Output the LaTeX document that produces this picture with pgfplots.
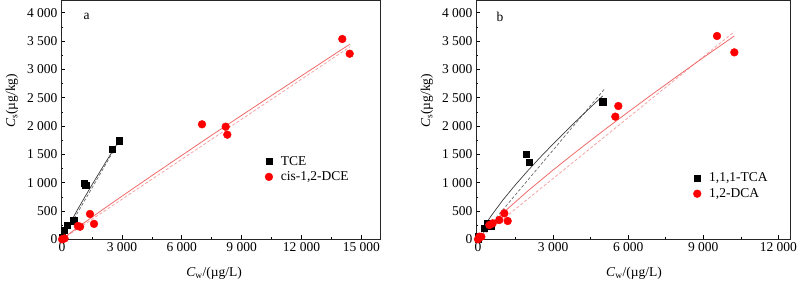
\documentclass[border=0pt]{standalone}
\usepackage{fontspec}
\setmainfont{Liberation Serif}
\usepackage{pgfplots}
\pgfplotsset{compat=1.18}
\definecolor{lred}{HTML}{F06A6A}
\definecolor{pred}{HTML}{F5A3A3}
\definecolor{dgray}{HTML}{3A3A3A}
\definecolor{mgray}{HTML}{6A6A6A}
\pgfplotsset{panel/.style={
  scale only axis, anchor=south west, height=238.6pt,
  ymin=0, ymax=4212,
  ytick={0,500,...,4000}, minor y tick num=1, minor x tick num=1,
  tick pos=left, tick align=inside,
  major tick length=4pt, minor tick length=2.2pt,
  every tick/.style={black, line width=0.6pt},
  axis line style={line width=0.9pt, black!85},
  /pgf/number format/assume math mode=true,
  /pgf/number format/1000 sep={\hspace{0.25em}},
  scaled ticks=false,
  xlabel={\textit{C}\textsubscript{w}/(µg/L)},
  ylabel={\textit{C}\textsubscript{s}(µg/kg)},
  clip=false,
  legend cell align=left,
  legend image code/.code={\draw[##1] plot coordinates {(0pt,0pt)};},
  legend style={draw=none, fill=none, inner sep=0pt, row sep=1pt,
     /tikz/every odd column/.append style={column sep=6pt}},
  ms/.style={only marks, mark=square*, mark size=3.2pt, black},
  mc/.style={only marks, mark=*, mark size=3.9pt, red, mark options={draw=red, fill=red}},
  ls/.style={no marks, dgray, line width=0.7pt, forget plot},
  ld/.style={no marks, mgray, line width=0.7pt, dash pattern=on 3pt off 2pt, forget plot},
  rs/.style={no marks, lred, line width=0.8pt, forget plot},
  rd/.style={no marks, pred, line width=0.8pt, dash pattern=on 3pt off 2pt, forget plot},
}}
\begin{document}
\begin{tikzpicture}[font=\fontsize{13.5pt}{16pt}\selectfont]
\useasboundingbox (0pt,0pt) rectangle (800pt,282pt);
% ---------------- panel a
\begin{axis}[panel, at={(61pt,42.7pt)}, width=319pt,
  xmin=-55, xmax=15935, xtick={0,3000,...,15000},
  xlabel style={at={(axis description cs:0.48,-0.1414)}, anchor=center},
  ylabel style={at={(axis description cs:-0.1536,0.58)}, anchor=center},
  legend style={at={(axis description cs:0.639,0.294)}, anchor=west}]
\addplot[ms] coordinates {(0,30) (95,160) (265,250) (590,330) (1118,988) (1188,958) (2518,1589) (2867,1741)};
\addlegendentry{TCE}
\addplot[mc] coordinates {(0,0) (120,15) (790,235) (900,222) (1398,447) (1600,272) (7013,2030) (8200,1988) (8281,1847) (14045,3536) (14416,3276)};
\addlegendentry{cis-1,2-DCE}
\addplot[rd] coordinates {(0,0) (14436,3400)};
\addplot[rs] coordinates {(0,0) (100,29) (500,136) (1000,265) (2000,516) (3000,761) (4500,1124) (6000,1481) (7500,1838) (9000,2188) (10500,2538) (12000,2885) (13200,3163) (14436,3447)};
\addplot[ld] coordinates {(350,212) (2900,1755)};
\addplot[ls] coordinates {(400,285) (800,540) (1200,784) (1600,1022) (2000,1254) (2400,1483) (2900,1763)};
\node at (axis description cs:0.08,0.933) {a};
\end{axis}
% ---------------- panel b
\begin{axis}[panel, at={(476pt,42.7pt)}, width=314.7pt,
  xmin=-80, xmax=12493, xtick={0,3000,...,12000},
  xlabel style={at={(axis description cs:0.502,-0.1414)}, anchor=center},
  ylabel style={at={(axis description cs:-0.1557,0.58)}, anchor=center},
  legend style={at={(axis description cs:0.690,0.2234)}, anchor=west}]
\addplot[ms] coordinates {(0,0) (0,46) (252,194) (387,282) (519,235) (1918,1500) (2050,1359) (4981,2429)};
\addlegendentry{1,1,1-TCA}
\addplot[mc] coordinates {(0,0) (53,46) (133,45) (452,252) (587,282) (851,341) (1051,459) (1186,323) (5486,2165) (5606,2353) (9549,3589) (10241,3300)};
\addlegendentry{1,2-DCA}
\addplot[rd] coordinates {(300,107) (10240,3665)};
\addplot[rs] coordinates {(300,162) (1000,467) (2000,857) (3000,1223) (4000,1574) (5000,1915) (6000,2247) (7000,2573) (8000,2892) (9000,3208) (10240,3589)};
\addplot[ld] coordinates {(200,105) (5047,2650)};
\addplot[ls] coordinates {(200,191) (500,399) (1000,697) (1500,965) (2000,1216) (2500,1454) (3000,1683) (3500,1905) (4000,2121) (4500,2332) (4981,2530)};
\node at (axis description cs:0.076,0.933) {b};
\end{axis}
\end{tikzpicture}
\end{document}
